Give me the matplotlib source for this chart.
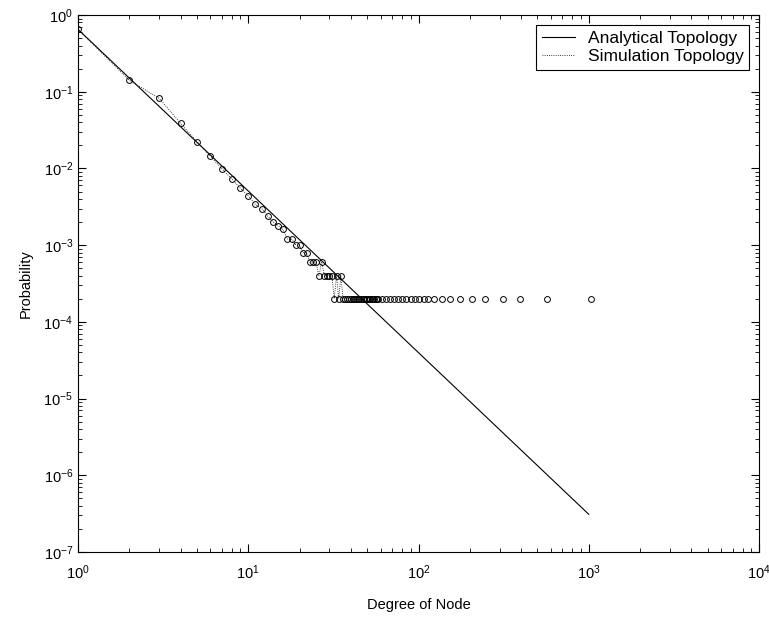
import matplotlib
matplotlib.use('Agg')
import matplotlib.pyplot as plt
from matplotlib.ticker import LogLocator, NullFormatter

plt.rcParams['font.family'] = ['Liberation Sans', 'DejaVu Sans']
plt.rcParams['mathtext.fontset'] = 'custom'
plt.rcParams['mathtext.rm'] = 'Liberation Sans'

# analytical topology: straight line in log-log, endpoints
analytical_degree = [1, 1000]
analytical_prob = [0.65, 3.1e-7]

# simulation topology (degree, probability)
sim_degree = [1, 2, 3, 4, 5, 6, 7, 8, 9, 10,
              11, 12, 13, 14, 15, 16, 17, 18, 19, 20,
              21, 22, 23, 24, 25, 26, 27, 28, 29, 30,
              31, 32, 33, 34, 35, 36, 37, 38, 39, 40,
              41, 42, 43, 44, 45, 46, 47, 48, 49, 50,
              51, 52, 53, 54, 55, 56, 57, 58, 61, 64,
              68, 72, 76, 80, 85, 90, 95, 101, 107, 113,
              123, 137, 153, 175, 205, 246, 314, 394, 569, 1030]
sim_prob = [0.65, 0.141, 0.082, 0.0387, 0.0223, 0.0144, 0.0099, 0.0073, 0.0055, 0.0044,
            0.0034, 0.0030, 0.0024, 0.0020, 0.0018, 0.0016, 0.0012, 0.0012, 0.0010, 0.0010,
            0.0008, 0.0008, 0.0006, 0.0006, 0.0006, 0.0004, 0.0006, 0.0004, 0.0004, 0.0004,
            0.0004, 0.0002, 0.0004, 0.0002, 0.0004, 0.0002, 0.0002, 0.0002, 0.0002, 0.0002,
            0.0002, 0.0002, 0.0002, 0.0002, 0.0002, 0.0002, 0.0002, 0.0002, 0.0002, 0.0002,
            0.0002, 0.0002, 0.0002, 0.0002, 0.0002, 0.0002, 0.0002, 0.0002, 0.0002, 0.0002,
            0.0002, 0.0002, 0.0002, 0.0002, 0.0002, 0.0002, 0.0002, 0.0002, 0.0002, 0.0002,
            0.0002, 0.0002, 0.0002, 0.0002, 0.0002, 0.0002, 0.0002, 0.0002, 0.0002, 0.0002]
# the dotted curve is only visible over the steep part
n_dotted = 37

fig = plt.figure(figsize=(7.69, 6.18), dpi=100)
ax = fig.add_axes([78/769, 1-552/618, (759-78)/769, (552-15)/618])

ax.loglog(analytical_degree, analytical_prob, '-', color='black', lw=0.8,
          label='Analytical Topology')
ax.loglog(sim_degree[:n_dotted], sim_prob[:n_dotted], ':', color='black', lw=0.6,
          label='Simulation Topology')
ax.loglog(sim_degree, sim_prob, 'o', ms=4.2, mfc='none', mec='black', mew=0.7)

ax.set_xlim(1, 1e4)
ax.set_ylim(1e-7, 1)
ax.xaxis.set_major_locator(LogLocator(base=10, numticks=10))
ax.yaxis.set_major_locator(LogLocator(base=10, numticks=10))
ax.xaxis.set_minor_locator(LogLocator(base=10, subs=range(2, 10), numticks=20))
ax.yaxis.set_minor_locator(LogLocator(base=10, subs=range(2, 10), numticks=20))
ax.xaxis.set_minor_formatter(NullFormatter())
ax.yaxis.set_minor_formatter(NullFormatter())
ax.tick_params(which='both', direction='in', top=True, right=True, labelsize=10.5)
ax.tick_params(which='major', length=6, width=0.8)
ax.tick_params(which='minor', length=3, width=0.6)
ax.tick_params(axis='x', which='major', pad=8)
for s in ax.spines.values():
    s.set_linewidth(0.8)

ax.set_xlabel('Degree of Node', fontsize=10.5, labelpad=12)
ax.set_ylabel('Probability', fontsize=10.5, labelpad=8)

leg = ax.legend(loc='upper right', prop={'size': 12.5},
                frameon=True, fancybox=False, edgecolor='black', framealpha=1,
                borderaxespad=0.55, handlelength=1.9, handletextpad=0.7,
                borderpad=0.35, labelspacing=0.2)
leg.get_frame().set_linewidth(0.8)

fig.savefig('out.png', dpi=100)
